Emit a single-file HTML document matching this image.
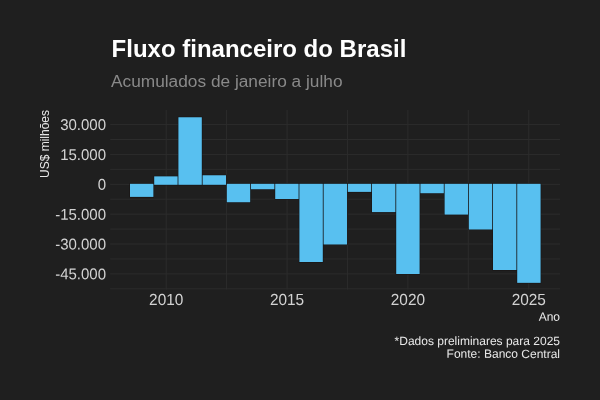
<!DOCTYPE html>
<html lang="pt-BR"><head><meta charset="utf-8"><title>Fluxo financeiro do Brasil</title>
<style>
html,body{margin:0;padding:0;background:#1f1f1f;}
body{width:600px;height:400px;overflow:hidden;}
svg{display:block;font-family:"Liberation Sans",sans-serif;}
</style></head><body>
<svg width="600" height="400" viewBox="0 0 600 400">
<rect x="0" y="0" width="600" height="400" fill="#1f1f1f"/>

<g stroke="#2c2c2c" stroke-width="1" fill="none">
<line x1="110.2" x2="560" y1="124.58" y2="124.58"/>
<line x1="110.2" x2="560" y1="139.51" y2="139.51"/>
<line x1="110.2" x2="560" y1="154.44" y2="154.44"/>
<line x1="110.2" x2="560" y1="169.37" y2="169.37"/>
<line x1="110.2" x2="560" y1="184.30" y2="184.30"/>
<line x1="110.2" x2="560" y1="199.23" y2="199.23"/>
<line x1="110.2" x2="560" y1="214.16" y2="214.16"/>
<line x1="110.2" x2="560" y1="229.09" y2="229.09"/>
<line x1="110.2" x2="560" y1="244.02" y2="244.02"/>
<line x1="110.2" x2="560" y1="258.95" y2="258.95"/>
<line x1="110.2" x2="560" y1="273.88" y2="273.88"/>
<line x1="110.2" x2="560" y1="288.81" y2="288.81"/>
<line x1="166.20" x2="166.20" y1="110" y2="289.5"/>
<line x1="226.62" x2="226.62" y1="110" y2="289.5"/>
<line x1="287.05" x2="287.05" y1="110" y2="289.5"/>
<line x1="347.48" x2="347.48" y1="110" y2="289.5"/>
<line x1="407.90" x2="407.90" y1="110" y2="289.5"/>
<line x1="468.32" x2="468.32" y1="110" y2="289.5"/>
<line x1="528.75" x2="528.75" y1="110" y2="289.5"/>
</g>
<g fill="#171213" stroke="#171213" stroke-width="1.0">
<rect x="130.00" y="183.80" width="23.40" height="13.10"/>
<rect x="154.20" y="176.35" width="23.40" height="8.45"/>
<rect x="178.40" y="117.25" width="23.40" height="67.55"/>
<rect x="202.60" y="175.25" width="23.40" height="9.55"/>
<rect x="226.80" y="183.80" width="23.40" height="18.45"/>
<rect x="251.00" y="183.80" width="23.40" height="5.45"/>
<rect x="275.20" y="183.80" width="23.40" height="15.20"/>
<rect x="299.40" y="183.80" width="23.40" height="78.20"/>
<rect x="323.60" y="183.80" width="23.40" height="60.70"/>
<rect x="347.80" y="183.80" width="23.40" height="8.10"/>
<rect x="372.00" y="183.80" width="23.40" height="28.30"/>
<rect x="396.20" y="183.80" width="23.40" height="90.20"/>
<rect x="420.40" y="183.80" width="23.40" height="9.45"/>
<rect x="444.60" y="183.80" width="23.40" height="30.80"/>
<rect x="468.80" y="183.80" width="23.40" height="45.70"/>
<rect x="493.00" y="183.80" width="23.40" height="86.20"/>
<rect x="517.20" y="183.80" width="23.40" height="99.05"/>
</g>
<g fill="#58c0f0">
<rect x="130.00" y="183.80" width="23.40" height="13.10"/>
<rect x="154.20" y="176.35" width="23.40" height="8.45"/>
<rect x="178.40" y="117.25" width="23.40" height="67.55"/>
<rect x="202.60" y="175.25" width="23.40" height="9.55"/>
<rect x="226.80" y="183.80" width="23.40" height="18.45"/>
<rect x="251.00" y="183.80" width="23.40" height="5.45"/>
<rect x="275.20" y="183.80" width="23.40" height="15.20"/>
<rect x="299.40" y="183.80" width="23.40" height="78.20"/>
<rect x="323.60" y="183.80" width="23.40" height="60.70"/>
<rect x="347.80" y="183.80" width="23.40" height="8.10"/>
<rect x="372.00" y="183.80" width="23.40" height="28.30"/>
<rect x="396.20" y="183.80" width="23.40" height="90.20"/>
<rect x="420.40" y="183.80" width="23.40" height="9.45"/>
<rect x="444.60" y="183.80" width="23.40" height="30.80"/>
<rect x="468.80" y="183.80" width="23.40" height="45.70"/>
<rect x="493.00" y="183.80" width="23.40" height="86.20"/>
<rect x="517.20" y="183.80" width="23.40" height="99.05"/>
</g>
<g font-size="15" fill="#d2d2d2" text-anchor="end">
<text transform="translate(106,130.08) rotate(0.03) scale(1,1.04)">30.000</text>
<text transform="translate(106,159.94) rotate(0.03) scale(1,1.04)">15.000</text>
<text transform="translate(106,189.80) rotate(0.03) scale(1,1.04)">0</text>
<text transform="translate(106,219.66) rotate(0.03) scale(1,1.04)">-15.000</text>
<text transform="translate(106,249.52) rotate(0.03) scale(1,1.04)">-30.000</text>
<text transform="translate(106,279.38) rotate(0.03) scale(1,1.04)">-45.000</text>
</g>
<g font-size="15.4" fill="#d2d2d2" text-anchor="middle">
<text transform="translate(166.20,305) rotate(0.03) scale(1,1.05)">2010</text>
<text transform="translate(287.05,305) rotate(0.03) scale(1,1.05)">2015</text>
<text transform="translate(407.90,305) rotate(0.03) scale(1,1.05)">2020</text>
<text transform="translate(528.75,305) rotate(0.03) scale(1,1.05)">2025</text>
</g>
<text transform="translate(560,320.8) rotate(0.03)" font-size="12" fill="#e8e8e8" text-anchor="end">Ano</text>
<text transform="translate(48.9,110) rotate(-90)" font-size="12" fill="#e8e8e8" text-anchor="end">US$ milhões</text>
<text x="111.6" y="56.9" font-size="24" font-weight="bold" fill="#ffffff">Fluxo financeiro do Brasil</text>
<text x="111" y="87" font-size="17.3" fill="#898989">Acumulados de janeiro a julho</text>
<text transform="translate(560,345) rotate(0.03)" font-size="12" fill="#e8e8e8" text-anchor="end">*Dados preliminares para 2025</text>
<text transform="translate(560,357.9) rotate(0.03)" font-size="12" fill="#e8e8e8" text-anchor="end">Fonte: Banco Central</text>
</svg>
</body></html>
